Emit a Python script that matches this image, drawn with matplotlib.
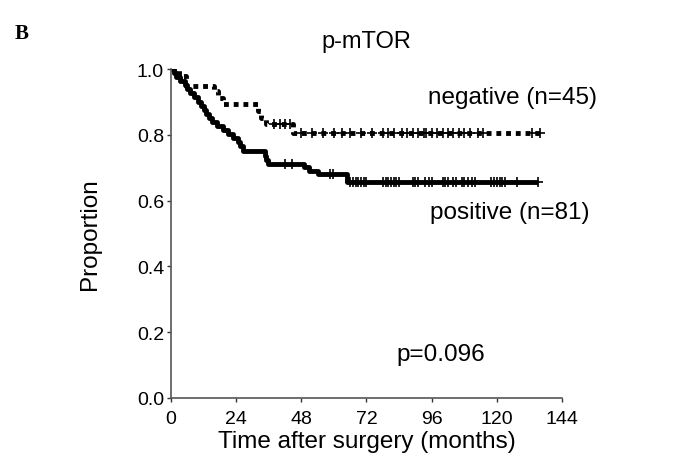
import numpy as np
import matplotlib.pyplot as plt

plt.rcParams['font.family'] = ['Liberation Sans', 'DejaVu Sans']

# Kaplan-Meier steps (time in months, proportion)
pos_t = [0, 1, 2, 3.5, 5, 6, 7, 8.5, 10, 11, 12, 13, 14, 15, 17, 19, 21, 23,
         24.5, 25.5, 26.5, 34.5, 35, 35.7, 49, 51, 54, 64.8, 135]
pos_p = [1.0, 0.988, 0.975, 0.963, 0.951, 0.938, 0.926, 0.914, 0.901, 0.889,
         0.877, 0.864, 0.852, 0.840, 0.827, 0.815, 0.803, 0.790, 0.778, 0.765,
         0.751, 0.737, 0.724, 0.711, 0.701, 0.691, 0.681, 0.657, 0.657]

neg_t = [0, 3, 5.5, 16, 17.5, 19, 32, 33, 35, 45, 136]
neg_p = [1.0, 0.978, 0.948, 0.933, 0.911, 0.895, 0.872, 0.85, 0.833, 0.805, 0.805]

# censored observations
pos_cens = [42, 44.5, 58.5, 59.7, 66, 67, 68, 69, 70, 71, 72, 78, 79, 80, 81,
            82, 83, 84, 89, 90, 91, 93.5, 95, 96, 100, 101, 102, 104, 105, 107,
            108, 109.5, 111, 112, 118, 119, 120, 121, 122, 123, 127.5, 135]
neg_cens = [38, 40, 42, 44, 48, 52, 56, 60, 63, 66, 70, 74, 78, 80, 82, 85, 87,
            89, 91, 93, 94, 96, 98, 100, 102, 104, 106, 108, 110, 113, 115, 133, 136]

xticks = [0, 24, 48, 72, 96, 120, 144]
yticks = [0.0, 0.2, 0.4, 0.6, 0.8, 1.0]


def surv_at(ts, ps, x):
    idx = np.searchsorted(ts, x, side='right') - 1
    return np.array(ps)[idx]


fig = plt.figure(figsize=(6.88, 4.64), dpi=100)
ax = fig.add_axes([0.2485, 0.1401, 0.5684, 0.7089])

ax.step(pos_t, pos_p, where='post', color='black', lw=3.5, solid_capstyle='butt')
ax.step(neg_t, neg_p, where='post', color='black', lw=3.5,
        linestyle=(0, (1, 1)), dash_capstyle='butt')
ax.plot(pos_cens, surv_at(pos_t, pos_p, pos_cens), '+', color='black', ms=7, mew=1.2)
ax.plot(neg_cens, surv_at(neg_t, neg_p, neg_cens), '+', color='black', ms=7, mew=1.2)

ax.set_xlim(0, 144)
ax.set_ylim(0, 1.0)
ax.set_xticks(xticks)
ax.set_yticks(yticks)
ax.set_yticklabels(['%.1f' % v for v in yticks])
ax.tick_params(labelsize=14, length=3, width=1, color='#333333', pad=2)
ax.tick_params(axis='x', pad=6)
for s in ['top', 'right']:
    ax.spines[s].set_visible(False)
for s in ['left', 'bottom']:
    ax.spines[s].set_color('#555555')
    ax.spines[s].set_linewidth(1.2)

ax.set_xlabel('Time after surgery (months)', fontsize=17.5, labelpad=2)
ax.set_ylabel('Proportion', fontsize=17.5, labelpad=26)
ax.set_title('p-mTOR', fontsize=17, pad=16)

ax.text(94.7, 0.915, 'negative (n=45)', fontsize=17.5, va='center')
ax.text(95.4, 0.565, 'positive (n=81)', fontsize=17.5, va='center')
ax.text(83, 0.134, 'p=0.096', fontsize=17.5, va='center')

fig.text(0.022, 0.915, 'B', fontsize=15, fontweight='bold', family='Liberation Serif')

fig.savefig('out.png', dpi=100)
